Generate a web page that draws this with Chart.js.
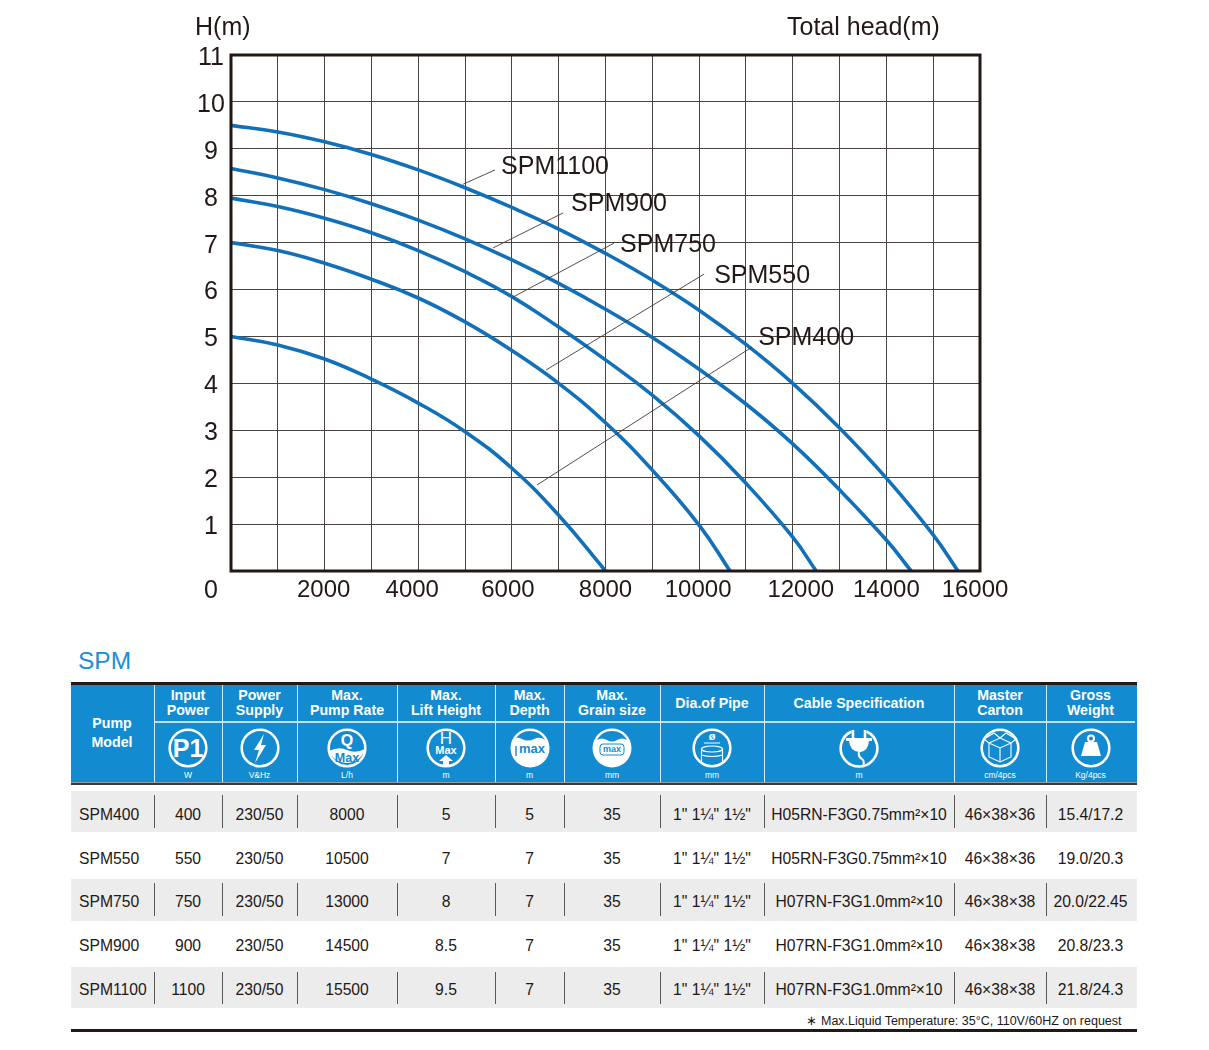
<!DOCTYPE html>
<html>
<head>
<meta charset="utf-8">
<title>SPM</title>
<script src="https://cdn.jsdelivr.net/npm/chart.js@4"></script>
<style>
  html, body { margin: 0; padding: 0; background: #fff; }
  body { width: 1209px; height: 1050px; position: relative; overflow: hidden; font-family: "Liberation Sans", Arial, sans-serif; color: #231815; }
  #curveChart { position: absolute; left: 0; top: 0; }
  .box { position: absolute; }
  .txt { position: absolute; transform: translate(-50%, -50%); white-space: nowrap; text-align: center; }
  svg { position: absolute; }
</style>
</head>
<body>
<canvas id="curveChart" width="1209" height="640" style="width:1209px;height:640px"></canvas>
<div id="table"></div>
<script>
// curve data: flow in L/h, head in m
const flow400 = [0, 1000, 2000, 3000, 4000, 5000, 6000, 7000, 8000];
const head400 = [5, 4.82, 4.52, 4.09, 3.58, 2.97, 2.19, 1.19, 0];
const flow550 = [0, 1000, 2000, 3000, 4000, 5000, 6000, 7000, 8000, 9000, 10000, 10660];
const head550 = [7, 6.83, 6.56, 6.22, 5.82, 5.31, 4.7, 4.0, 3.16, 2.15, 0.98, 0];
const flow750 = [0, 1000, 2000, 3000, 4000, 5000, 6000, 7000, 8000, 9000, 10000, 11000, 12000, 12500];
const head750 = [7.95, 7.77, 7.52, 7.21, 6.83, 6.38, 5.85, 5.2, 4.5, 3.75, 2.88, 1.87, 0.72, 0];
const flow900 = [0, 1000, 2000, 3000, 4000, 5000, 6000, 7000, 8000, 9000, 10000, 11000, 12000, 13000, 14000, 14530];
const head900 = [8.58, 8.38, 8.13, 7.83, 7.48, 7.08, 6.63, 6.13, 5.58, 4.98, 4.3, 3.56, 2.71, 1.73, 0.66, 0];
const flow1100 = [0, 1000, 2000, 3000, 4000, 5000, 6000, 7000, 8000, 9000, 10000, 11000, 12000, 13000, 14000, 15000, 15530];
const head1100 = [9.5, 9.36, 9.15, 8.88, 8.55, 8.17, 7.75, 7.29, 6.77, 6.2, 5.56, 4.83, 4.0, 3.05, 1.98, 0.77, 0];

const curveNames = ['SPM400', 'SPM550', 'SPM750', 'SPM900', 'SPM1100'];
const xTickLabels = [2000, 4000, 6000, 8000, 10000, 12000, 14000, 16000];
const yTickLabels = [0, 1, 2, 3, 4, 5, 6, 7, 8, 9, 10, 11];

// leader lines from each curve name, in chart units
const leader400 = { x: [6538, 11132], y: [1.834, 4.776] };
const leader550 = { x: [6731, 10107], y: [4.286, 6.33] };
const leader750 = { x: [6026, 8184], y: [5.84, 6.99] };
const leader900 = { x: [5598, 7094], y: [6.887, 7.633] };
const leader1100 = { x: [4957, 5641], y: [8.245, 8.55] };
const nameAnchorX = [11261, 10321, 8312, 7265, 5769];
const nameAnchorY = [5.01, 6.33, 6.99, 7.87, 8.66];

// spec table
const modelCol = ['SPM400', 'SPM550', 'SPM750', 'SPM900', 'SPM1100'];
const powerCol = ['400', '550', '750', '900', '1100'];
const supplyCol = ['230/50', '230/50', '230/50', '230/50', '230/50'];
const rateCol = ['8000', '10500', '13000', '14500', '15500'];
const liftCol = ['5', '7', '8', '8.5', '9.5'];
const depthCol = ['5', '7', '7', '7', '7'];
const grainCol = ['35', '35', '35', '35', '35'];
const pipeCol = ['1" 1¼" 1½"', '1" 1¼" 1½"', '1" 1¼" 1½"', '1" 1¼" 1½"', '1" 1¼" 1½"'];
const cableCol = ['H05RN-F3G0.75mm²×10', 'H05RN-F3G0.75mm²×10', 'H07RN-F3G1.0mm²×10', 'H07RN-F3G1.0mm²×10', 'H07RN-F3G1.0mm²×10'];
const cartonCol = ['46×38×36', '46×38×36', '46×38×38', '46×38×38', '46×38×38'];
const weightCol = ['15.4/17.2', '19.0/20.3', '20.0/22.45', '20.8/23.3', '21.8/24.3'];
const headerLines = [['Input', 'Power'], ['Power', 'Supply'], ['Max.', 'Pump Rate'], ['Max.', 'Lift Height'], ['Max.', 'Depth'], ['Max.', 'Grain size'], ['Dia.of Pipe'], ['Cable Specification'], ['Master', 'Carton'], ['Gross', 'Weight']];
const unitLabels = ['W', 'V&Hz', 'L/h', 'm', 'm', 'mm', 'mm', 'm', 'cm/4pcs', 'Kg/4pcs'];

const BLUE = '#1270b8';
const INK = '#231815';
const FONT = '"Liberation Sans", Arial, sans-serif';

function zip(xs, ys) {
  return xs.map((x, i) => ({ x: x, y: ys[i] }));
}

const curveData = [zip(flow400, head400), zip(flow550, head550), zip(flow750, head750), zip(flow900, head900), zip(flow1100, head1100)];
const leaderData = [leader400, leader550, leader750, leader900, leader1100].map(l => zip(l.x, l.y));

// tick labels sit off the grid in the original, so they are drawn here
const xNudge = [-1, -6, -4, 0, -1, 8, 0, -5];
const axisText = {
  id: 'axisText',
  afterDraw(chart) {
    const ctx = chart.ctx;
    const xs = chart.scales.x, ys = chart.scales.y;
    ctx.save();
    ctx.fillStyle = INK;
    ctx.textBaseline = 'middle';
    ctx.textAlign = 'center';
    ctx.font = '24px ' + FONT;
    xTickLabels.forEach((v, i) => ctx.fillText(String(v), xs.getPixelForValue(v) + xNudge[i], 590));
    ctx.font = '25px ' + FONT;
    yTickLabels.forEach(v => ctx.fillText(String(v), 211, v === 0 ? 591 : ys.getPixelForValue(v) + 3));
    ctx.textAlign = 'left';
    ctx.fillText('H(m)', 195, 28);
    ctx.fillText('Total head(m)', 787, 28);
    curveNames.forEach((n, i) => ctx.fillText(n, xs.getPixelForValue(nameAnchorX[i]), ys.getPixelForValue(nameAnchorY[i]) + 2));
    // heavy frame
    const a = chart.chartArea;
    ctx.strokeStyle = INK;
    ctx.lineWidth = 3;
    ctx.strokeRect(a.left, a.top, a.right - a.left, a.bottom - a.top);
    ctx.restore();
  }
};

const datasets = [];
leaderData.forEach(d => datasets.push({ data: d, showLine: true, borderColor: '#3e3a39', borderWidth: 0.9, pointRadius: 0 }));
curveData.forEach((d, i) => datasets.push({ label: curveNames[i], data: d, showLine: true, borderColor: BLUE, borderWidth: 3.6, pointRadius: 0, tension: 0.45, borderCapStyle: 'butt' }));

new Chart(document.getElementById('curveChart').getContext('2d'), {
  type: 'scatter',
  data: { datasets: datasets },
  options: {
    responsive: false,
    animation: false,
    devicePixelRatio: 1,
    layout: { padding: { left: 231, right: 229, top: 55, bottom: 69 } },
    plugins: { legend: { display: false }, tooltip: { enabled: false } },
    scales: {
      x: {
        type: 'linear', min: 0, max: 16000,
        afterFit: s => { s.height = 0; },
        ticks: { display: false, stepSize: 1000 },
        grid: { color: '#4a4443', lineWidth: 1, drawTicks: false },
        border: { display: false }
      },
      y: {
        type: 'linear', min: 0, max: 11,
        afterFit: s => { s.width = 0; },
        ticks: { display: false, stepSize: 1 },
        grid: { color: '#4a4443', lineWidth: 1, drawTicks: false },
        border: { display: false }
      }
    }
  },
  plugins: [axisText]
});

// ---------- table below the chart ----------
const table = document.getElementById('table');
const colEdges = [71, 154, 222, 297, 397, 495, 564, 660, 764, 954, 1046, 1135];
const rowCentres = [814.5, 858.5, 901.5, 945.5, 989.5];
const rowBands = [[791, 832], [879, 921], [967, 1008]];
const rowTicks = [[795, 828], [883, 916], [972, 1004]];

function box(x, y, w, h, bg) {
  const d = document.createElement('div');
  d.className = 'box';
  d.style.cssText = `left:${x}px;top:${y}px;width:${w}px;height:${h}px;background:${bg}`;
  table.appendChild(d);
}
function text(s, cx, cy, css) {
  const d = document.createElement('div');
  d.className = 'txt';
  d.textContent = s;
  d.style.cssText = `left:${cx}px;top:${cy}px;${css}`;
  table.appendChild(d);
}
const midOf = i => (colEdges[i] + colEdges[i + 1]) / 2;

text('SPM', 104.5, 661, 'font-size:24.5px;color:#1a8fd3');
box(71, 682, 1066, 2.5, INK);
box(71, 685, 1066, 97, '#128bd0');
box(71, 782, 1066, 1, '#9a9a9a');
box(71, 783, 1066, 1.5, '#3e3a39');
box(154, 721, 981, 1.5, '#bfe0f3');
colEdges.slice(1, -1).forEach(x => box(x - 0.5, 685, 1.5, 97, '#d5ebf7'));

const headCss = 'font-size:14.2px;font-weight:bold;color:#fff';
text('Pump', 112, 723, headCss);
text('Model', 112, 742, headCss);
headerLines.forEach((lines, i) => {
  const cx = midOf(i + 1);
  if (lines.length === 2) {
    text(lines[0], cx, 695, headCss);
    text(lines[1], cx, 710, headCss);
  } else {
    text(lines[0], cx, 703, headCss);
  }
  text(unitLabels[i], cx, 775, 'font-size:8.5px;color:#fff');
});

// icons, hand drawn to look like the catalogue pictograms
const W = '#fff', B = '#128bd0';
const ring = `<circle cx="22" cy="22" r="18.3" fill="none" stroke="${W}" stroke-width="2.6"/>`;
const disc = `<circle cx="22" cy="22" r="19.5" fill="${W}"/>`;
const t = (s, x, y, size, col, bold) => `<text x="${x}" y="${y}" text-anchor="middle" font-family="Liberation Sans" font-size="${size}" fill="${col}" ${bold ? 'font-weight="bold"' : ''}>${s}</text>`;
const icons = [
  ring + t('P1', 22, 31, 25, W, true),
  ring + `<polygon points="26,8 16,24 21,24 17,37 28,19 23,19" fill="${W}"/>`,
  ring + `<path d="M4,25 Q14,20 22,24 T40,23 A19,19 0 0 1 4,25Z" fill="${W}"/>` + t('Q', 22, 20, 16, W, true) + t('Max', 22, 36, 12.5, B, true),
  ring + t('H', 22, 18, 17, W, false) + t('Max', 22, 28, 11, W, true) + `<polygon points="22,29 29,35 25,35 25,40 19,40 19,35 15,35" fill="${W}"/>`,
  disc + `<path d="M7,14 A17,17 0 0 1 37,14 Q32,10 26,13 T14,13 T7,14Z" fill="${B}"/>` + t('max', 24, 27, 13, B, true) + `<path d="M8,20 V30" stroke="${B}" stroke-width="1.4"/>`,
  disc + `<path d="M7,14 A17,17 0 0 1 37,14 Q32,11 27,14 T17,14 T7,14Z" fill="${B}"/><rect x="10" y="18" width="24" height="11" rx="3" fill="none" stroke="${B}"/>` + t('max', 22, 26, 9, B, true),
  ring + t('ø', 22, 14, 11, W, true) + `<path d="M14,17 H30" stroke="${W}" stroke-width="1"/><ellipse cx="22" cy="23" rx="10.5" ry="3" fill="none" stroke="${W}" stroke-width="1.2"/><path d="M11.5,23 V35 M32.5,23 V35 M11.5,29 Q22,32 32.5,29" stroke="${W}" fill="none" stroke-width="1.2"/>`,
  `<path d="M14.5,5.5 A18.3,18.3 0 1 0 29.5,5.5" fill="none" stroke="${W}" stroke-width="2.6"/><path d="M16,4 V12 M28,4 V12" stroke="${W}" stroke-width="2.6"/><path d="M9,12 H35 V15 H32 Q31,25 23.5,26 L22,26 Q13,25 12,15 H9Z" fill="${W}"/><path d="M22,26 Q21,31 25,33 Q28,35 26,40" fill="none" stroke="${W}" stroke-width="2"/>`,
  ring + `<path d="M22,12 L33,17 L22,22 L11,17Z M22,12 L16,7 L6,13 L11,17 M22,12 L28,7 L38,13 L33,17 M11,17 V31 L22,36 L33,31 V17 M22,22 V36" fill="none" stroke="${W}" stroke-width="1.1"/>`,
  ring + `<circle cx="22" cy="12.5" r="3" fill="none" stroke="${W}" stroke-width="2"/><polygon points="16,16 28,16 32,30 12,30" fill="${W}"/>`
];
icons.forEach((body, i) => {
  const svg = document.createElementNS('http://www.w3.org/2000/svg', 'svg');
  svg.setAttribute('width', 44);
  svg.setAttribute('height', 44);
  svg.setAttribute('viewBox', '0 0 44 44');
  svg.style.left = (midOf(i + 1) - 22) + 'px';
  svg.style.top = '726px';
  svg.innerHTML = body;
  table.appendChild(svg);
});

rowBands.forEach(b => box(71, b[0], 1066, b[1] - b[0], '#ececec'));
rowTicks.forEach(b => colEdges.slice(1, -1).forEach(x => box(x, b[0], 1, b[1] - b[0], '#595757')));

const columns = [modelCol, powerCol, supplyCol, rateCol, liftCol, depthCol, grainCol, pipeCol, cableCol, cartonCol, weightCol];
columns.forEach((col, c) => {
  col.forEach((v, r) => {
    if (c === 0) {
      const d = document.createElement('div');
      d.className = 'txt';
      d.textContent = v;
      d.style.cssText = `left:79px;top:${rowCentres[r]}px;font-size:15.7px;transform:translateY(-50%)`;
      table.appendChild(d);
    } else {
      text(v, midOf(c), rowCentres[r], 'font-size:15.7px');
    }
  });
});

text('∗ Max.Liquid Temperature: 35°C, 110V/60HZ on request', 964, 1020, 'font-size:12.5px');
box(71, 1029, 1066, 3, INK);
</script>
</body>
</html>
